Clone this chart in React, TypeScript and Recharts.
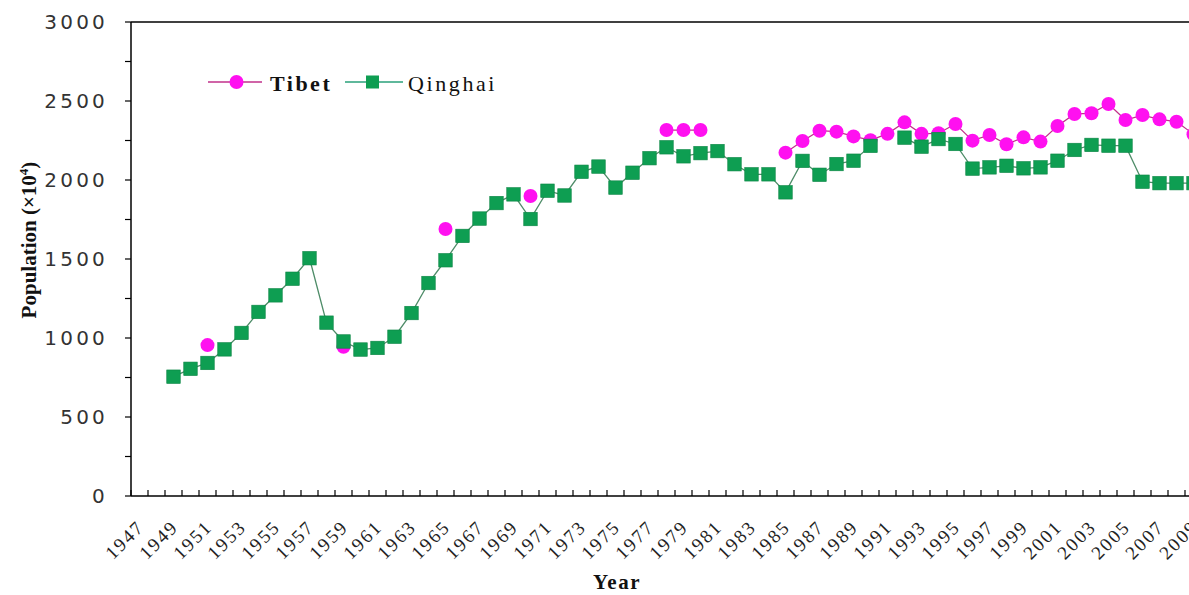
import React from 'react';
import { LineChart, Line, XAxis, YAxis, ReferenceLine, Legend } from 'recharts';

// Calendar years on the category axis
const years = [
  1947, 1948, 1949, 1950,
  1951, 1952, 1953, 1954, 1955, 1956, 1957, 1958, 1959, 1960,
  1961, 1962, 1963, 1964, 1965, 1966, 1967, 1968, 1969, 1970,
  1971, 1972, 1973, 1974, 1975, 1976, 1977, 1978, 1979, 1980,
  1981, 1982, 1983, 1984, 1985, 1986, 1987, 1988, 1989, 1990,
  1991, 1992, 1993, 1994, 1995, 1996, 1997, 1998, 1999, 2000,
  2001, 2002, 2003, 2004, 2005, 2006, 2007, 2008, 2009, 2010,
];

// Population (x10^4), null where no record exists
const tibet = [
  null, null, null, null,
  955, null, null, null, null, null, null, null, 945, null,
  null, null, null, null, 1690, null, null, null, null, 1899,
  null, null, null, null, null, null, null, 2316, 2316, 2316,
  null, null, null, null, 2173, 2247, 2312, 2306, 2276, 2252,
  2292, 2365, 2292, 2296, 2354, 2249, 2285, 2226, 2270, 2243,
  2342, 2418, 2422, 2481, 2380, 2411, 2384, 2369, 2290, null,
];

const qinghai = [
  null, null, 755, 805,
  842, 928, 1032, 1165, 1270, 1375, 1505, 1097, 978, 927,
  937, 1008, 1158, 1348, 1492, 1646, 1756, 1854, 1909, 1753,
  1932, 1902, 2052, 2085, 1952, 2046, 2138, 2207, 2150, 2170,
  2183, 2100, 2036, 2036, 1922, 2121, 2033, 2101, 2122, 2216,
  null, 2268, 2211, 2259, 2228, 2072, 2080, 2090, 2074, 2080,
  2122, 2190, 2222, 2217, 2217, 1989, 1980, 1980, 1980, null,
];

const yTicks = [0, 250, 500, 750, 1000, 1250, 1500, 1750, 2000, 2250, 2500, 2750, 3000];

const data = years.map((year, i) => ({ year, tibet: tibet[i], qinghai: qinghai[i] }));

const TIBET_DOT = '#FF10F0';
const TIBET_LINE = '#C0308A';
const QH_FILL = '#0E9E52';
const QH_LINE = '#4E8C68';
const SERIF = '"Liberation Serif", "Times New Roman", serif';

const CHART_W = 1260;
const CHART_H = 595;
const AXIS_W = 131;
const MARGIN_R = 41;
const HALF = (CHART_W - AXIS_W - MARGIN_R) / years.length / 2;

function SquareDot(props: any) {
  const { cx, cy, index } = props;
  if (cx == null || cy == null) return <g key={`sq-${index}`} />;
  const s = 13.5;
  return (
    <rect
      key={`sq-${index}`}
      x={cx - s / 2}
      y={cy - s / 2}
      width={s}
      height={s}
      fill={QH_FILL}
      stroke="#0B8544"
      strokeWidth={0.6}
    />
  );
}

function YearTick(props: any) {
  const { x, y, payload, index } = props;
  const year = payload.value as number;
  const showLabel = (year - 1947) % 2 === 0;
  const lx = x + 6;
  const ly = y + 32;
  return (
    <g>
      <line x1={x - HALF} x2={x - HALF} y1={y} y2={y - 6} stroke="#000" strokeWidth={1.2} />
      {index === years.length - 1 && (
        <line x1={x + HALF} x2={x + HALF} y1={y} y2={y - 6} stroke="#000" strokeWidth={1.2} />
      )}
      {showLabel && (
        <text
          x={lx}
          y={ly}
          transform={`rotate(-45, ${lx}, ${ly})`}
          textAnchor="end"
          fontFamily={SERIF}
          fontSize={19}
          letterSpacing={2}
          fill="#222"
        >
          {year}
        </text>
      )}
    </g>
  );
}

function PopulationLabel(props: any) {
  const vb = props.viewBox || { x: 0, y: 22 };
  const x = vb.x + 36;
  const y = vb.y + 218;
  return (
    <text
      x={x}
      y={y}
      transform={`rotate(-90, ${x}, ${y})`}
      textAnchor="middle"
      fontFamily={SERIF}
      fontWeight="bold"
      fontSize={21}
      fill="#111"
    >
      Population (×10
      <tspan dy={-8} fontSize={13}>4</tspan>
      <tspan dy={8}>)</tspan>
    </text>
  );
}

function YearLabel() {
  return (
    <text
      x={617}
      y={589}
      textAnchor="middle"
      fontFamily={SERIF}
      fontWeight="bold"
      fontSize={21}
      letterSpacing={1.5}
      fill="#111"
    >
      Year
    </text>
  );
}

function SeriesLegend() {
  return (
    <svg width={320} height={32} style={{ display: 'block', overflow: 'visible' }}>
      <line x1={8} x2={62} y1={15} y2={15} stroke={TIBET_LINE} strokeWidth={1.5} />
      <circle cx={36.5} cy={15} r={7} fill={TIBET_DOT} />
      <text x={70} y={24} fontFamily={SERIF} fontWeight="bold" fontSize={22} letterSpacing={2.5} fill="#111">
        Tibet
      </text>
      <line x1={145} x2={203} y1={15} y2={15} stroke="#2AA07A" strokeWidth={1.5} />
      <rect x={166} y={8.5} width={13} height={13} fill={QH_FILL} />
      <text x={208} y={24} fontFamily={SERIF} fontSize={22} letterSpacing={2.6} fill="#111">
        Qinghai
      </text>
    </svg>
  );
}

export default function App() {
  return (
    <div
      style={{
        position: 'absolute',
        left: 0,
        top: 0,
        width: 1189,
        height: 595,
        overflow: 'hidden',
        background: '#fff',
      }}
    >
      <LineChart
        width={CHART_W}
        height={CHART_H}
        data={data}
        margin={{ top: 22, right: MARGIN_R, bottom: 0, left: 0 }}
      >
        <XAxis
          dataKey="year"
          type="category"
          interval={0}
          height={99}
          padding={{ left: HALF, right: HALF }}
          tickSize={0}
          tickMargin={0}
          tickLine={false}
          tick={<YearTick />}
          axisLine={{ stroke: '#000', strokeWidth: 1.5 }}
          label={<YearLabel />}
        />
        <YAxis
          width={AXIS_W}
          domain={[0, 3000]}
          ticks={yTicks}
          interval={0}
          tickSize={6}
          tickMargin={17}
          tickFormatter={(v: number) => (v % 500 === 0 ? String(v) : '')}
          tick={{ fontFamily: '"DejaVu Sans", sans-serif', fontSize: 20, letterSpacing: 3.2, fill: '#333' }}
          tickLine={{ stroke: '#000', strokeWidth: 1.2 }}
          axisLine={{ stroke: '#000', strokeWidth: 1.5 }}
          label={<PopulationLabel />}
        />
        <ReferenceLine y={3000} stroke="#000" strokeWidth={1.5} ifOverflow="extendDomain" />
        <Legend
          verticalAlign="middle"
          align="center"
          layout="horizontal"
          content={() => <SeriesLegend />}
          wrapperStyle={{ left: 200, top: 67, width: 320 }}
        />
        <Line
          type="linear"
          dataKey="tibet"
          name="Tibet"
          stroke={TIBET_LINE}
          strokeWidth={1.2}
          dot={{ r: 7, fill: TIBET_DOT, stroke: TIBET_DOT, strokeWidth: 0 }}
          activeDot={false}
          isAnimationActive={false}
        />
        <Line
          type="linear"
          dataKey="qinghai"
          name="Qinghai"
          stroke={QH_LINE}
          strokeWidth={1.3}
          dot={<SquareDot />}
          activeDot={false}
          isAnimationActive={false}
        />
      </LineChart>
    </div>
  );
}
